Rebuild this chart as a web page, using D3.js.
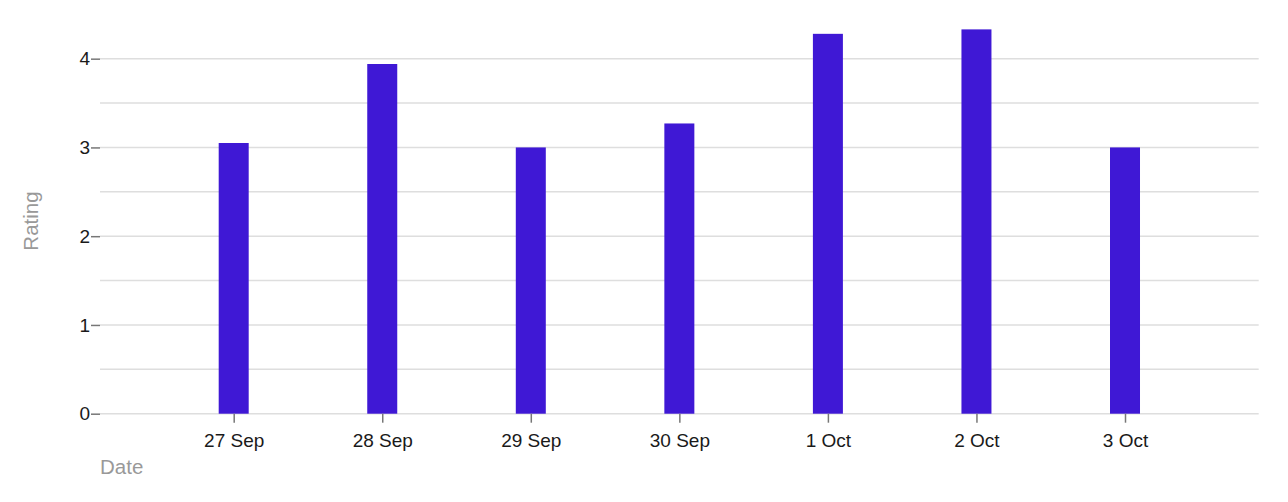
<!DOCTYPE html>
<html>
<head>
<meta charset="utf-8">
<script src="https://cdn.jsdelivr.net/npm/d3@7"></script>
<style>
  body { margin: 0; background: #fff; }
  svg { display: block; font-family: 'Liberation Sans', Arial, sans-serif; }
</style>
</head>
<body>
<svg id="chart" width="1288" height="502"></svg>
<script>
// ratings per day
const dates = ['27 Sep', '28 Sep', '29 Sep', '30 Sep', '1 Oct', '2 Oct', '3 Oct'];
const ratings = [3.05, 3.94, 3.0, 3.27, 4.28, 4.33, 3.0];
const yTicks = [0, 1, 2, 3, 4];
const gridLines = [0, 0.5, 1, 1.5, 2, 2.5, 3, 3.5, 4];

const margin = { top: 14.3, right: 29.3, bottom: 88.3, left: 100 };
const width = 1288 - margin.left - margin.right;
const height = 502 - margin.top - margin.bottom;

const svg = d3.select('#chart');
const g = svg.append('g').attr('transform', `translate(${margin.left},${margin.top})`);

const x = d3.scalePoint().domain(dates).range([0, width]).padding(0.9);
const y = d3.scaleLinear().domain([0, 4.5]).range([height, 0]);

// grid
g.append('g')
  .selectAll('line')
  .data(gridLines)
  .enter()
  .append('line')
  .attr('x1', 0)
  .attr('x2', width)
  .attr('y1', (d) => y(d))
  .attr('y2', (d) => y(d))
  .attr('stroke', '#dedede')
  .attr('stroke-width', 1.5);

// bars
const barWidth = 30;
g.append('g')
  .selectAll('rect')
  .data(ratings)
  .enter()
  .append('rect')
  .attr('x', (d, i) => x(dates[i]) - barWidth / 2)
  .attr('y', (d) => y(d))
  .attr('width', barWidth)
  .attr('height', (d) => height - y(d))
  .attr('fill', '#3f18d5');

// axes
const xAxis = g.append('g')
  .attr('transform', `translate(0,${height})`)
  .call(d3.axisBottom(x).tickSize(9).tickPadding(11));
xAxis.select('.domain').remove();
xAxis.selectAll('line').attr('stroke', '#777').attr('stroke-width', 1.5);
xAxis.selectAll('text').attr('fill', '#1a1a1a').style('font-size', '19px');

const yAxis = g.append('g')
  .call(d3.axisLeft(y).tickValues(yTicks).tickFormat(d3.format('d')).tickSize(9).tickPadding(1));
yAxis.select('.domain').remove();
yAxis.selectAll('line').attr('stroke', '#777').attr('stroke-width', 1.5);
yAxis.selectAll('text').attr('fill', '#1a1a1a').style('font-size', '19px');

// axis titles
svg.append('text')
  .attr('x', margin.left)
  .attr('y', 474)
  .attr('fill', '#999')
  .style('font-size', '20.5px')
  .text('Date');

svg.append('text')
  .attr('transform', 'translate(38,221) rotate(-90)')
  .attr('text-anchor', 'middle')
  .attr('fill', '#999')
  .style('font-size', '20.5px')
  .text('Rating');
</script>
</body>
</html>
